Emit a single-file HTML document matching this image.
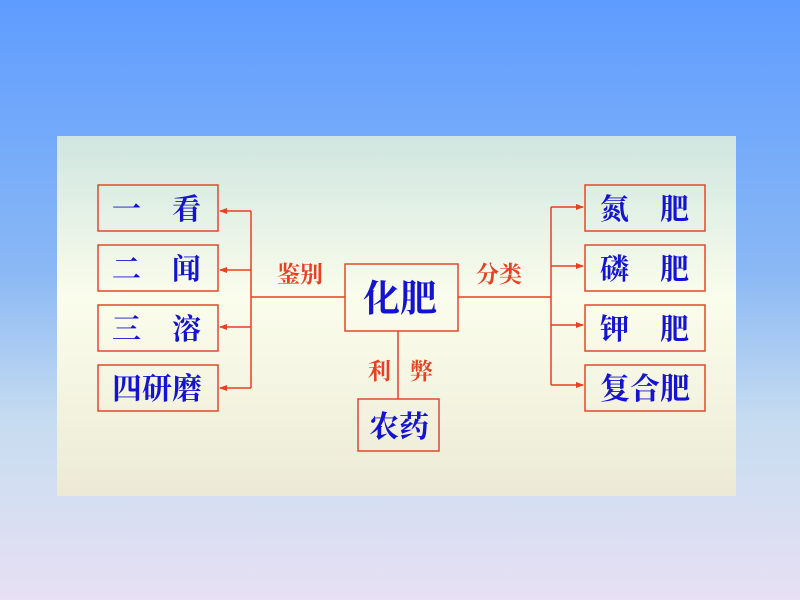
<!DOCTYPE html>
<html><head><meta charset="utf-8"><style>
html,body{margin:0;padding:0;width:800px;height:600px;overflow:hidden}
body{background:linear-gradient(180deg,#5e9cff 0%,#8ab8f5 45%,#c6dcf0 70%,#e8e0f4 100%)}
svg{position:absolute;left:0;top:0}
text{font-family:"Liberation Serif","Noto Serif CJK SC",serif;font-weight:bold}
</style></head><body>
<svg width="800" height="600" viewBox="0 0 800 600">
<defs>
<linearGradient id="p" x1="0" y1="0" x2="0" y2="1">
<stop offset="0" stop-color="#cfe6e0"/><stop offset="0.45" stop-color="#fbfdec"/><stop offset="1" stop-color="#ecead6"/>
</linearGradient>
<marker id="a" markerWidth="8" markerHeight="8" refX="7" refY="4" orient="auto" markerUnits="userSpaceOnUse">
<path d="M0,1 L8,4 L0,7 Z" fill="#e84020"/></marker>
</defs>
<rect x="57" y="136" width="679" height="360" fill="url(#p)"/>
<g fill="none" stroke="#e04a2a" stroke-width="1.5">
<rect x="98" y="185" width="120" height="46"/>
<rect x="98" y="245" width="120" height="46"/>
<rect x="98" y="305" width="120" height="46"/>
<rect x="98" y="365" width="120" height="46"/>
<rect x="585" y="185" width="120" height="46"/>
<rect x="585" y="245" width="120" height="46"/>
<rect x="585" y="305" width="120" height="46"/>
<rect x="585" y="365" width="120" height="46"/>
<rect x="345" y="264" width="113" height="67"/>
<rect x="358" y="399" width="81" height="52"/>
</g>
<g fill="none" stroke="#e84020" stroke-width="1.5">
<path d="M251,211 V388 M251,297 H345 M458,297 H551 M551,207 V385 M398,331 V399"/>
<line x1="251" y1="211" x2="220" y2="211" marker-end="url(#a)"/>
<line x1="251" y1="270" x2="220" y2="270" marker-end="url(#a)"/>
<line x1="251" y1="327" x2="220" y2="327" marker-end="url(#a)"/>
<line x1="251" y1="388" x2="220" y2="388" marker-end="url(#a)"/>
<line x1="551" y1="207" x2="583" y2="207" marker-end="url(#a)"/>
<line x1="551" y1="266" x2="583" y2="266" marker-end="url(#a)"/>
<line x1="551" y1="325" x2="583" y2="325" marker-end="url(#a)"/>
<line x1="551" y1="385" x2="583" y2="385" marker-end="url(#a)"/>
</g>
<g fill="#1414d0" font-size="29">
<text x="112" y="219">一</text><text x="172" y="219">看</text>
<text x="112" y="279">二</text><text x="172" y="279">闻</text>
<text x="112" y="339">三</text><text x="172" y="339">溶</text>
<text x="112" y="399" font-size="30">四研磨</text>
<text x="600" y="219">氮</text><text x="660" y="219">肥</text>
<text x="600" y="279">磷</text><text x="660" y="279">肥</text>
<text x="600" y="339">钾</text><text x="660" y="339">肥</text>
<text x="600" y="399" font-size="30">复合肥</text>
<text x="363" y="311" font-size="37">化肥</text>
<text x="369" y="437" font-size="30">农药</text>
</g>
<g fill="#e84020" font-size="23">
<text x="277" y="282">鉴别</text>
<text x="476" y="282">分类</text>
<text x="368" y="379">利</text><text x="410" y="379">弊</text>
</g>
</svg>
</body></html>
